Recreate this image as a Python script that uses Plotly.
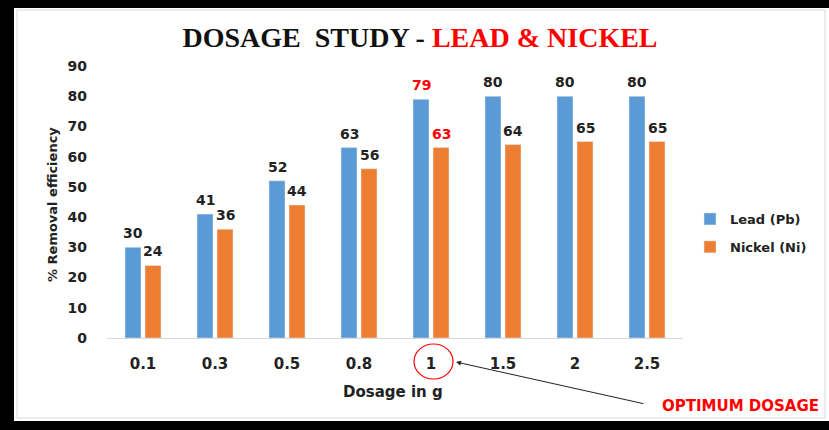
import plotly.graph_objects as go

# Dosage study data: % removal efficiency for lead and nickel
dosage = ["0.1", "0.3", "0.5", "0.8", "1", "1.5", "2", "2.5"]
lead_pb = [30, 41, 52, 63, 79, 80, 80, 80]
nickel_ni = [24, 36, 44, 56, 63, 64, 65, 65]
optimum = "1"

BLUE = "#5B9BD5"
ORANGE = "#ED7D31"
RED = "#FF0000"
FONT = "DejaVu Sans"

W, H = 829, 430
# plot area in pixels
L, R, T, B = 107, 683, 66, 338


def px(x):
    return (x - L) / (R - L)


def py(y):
    return (B - y) / (B - T)


fig = go.Figure()
fig.add_trace(go.Bar(x=dosage, y=lead_pb, name="Lead (Pb)", marker_color=BLUE,
                     legendgroup="pb"))
fig.add_trace(go.Bar(x=dosage, y=nickel_ni, name="Nickel (Ni)", marker_color=ORANGE,
                     legendgroup="ni"))

annotations = []
# value labels above each bar (category axis positions are indices)
for i, (cat, vp, vn) in enumerate(zip(dosage, lead_pb, nickel_ni)):
    col = RED if cat == optimum else "#222222"
    for val, shift in ((vp, -10), (vn, 10)):
        annotations.append(dict(
            x=i, y=val, xref="x", yref="y", text=str(val), showarrow=False,
            xshift=shift, yshift=4, yanchor="bottom",
            font=dict(family=FONT, size=14, color=col, weight="bold")))

# axis titles
annotations.append(dict(
    x=px(52), y=py(205), xref="paper", yref="paper", text="% Removal efficiency",
    textangle=-90, showarrow=False, xanchor="center", yanchor="middle",
    font=dict(family=FONT, size=13, color="#222222", weight="bold")))
annotations.append(dict(
    x=px(393), y=py(392), xref="paper", yref="paper", text="Dosage in g",
    showarrow=False, xanchor="center", yanchor="middle",
    font=dict(family=FONT, size=15, color="#222222", weight="bold")))

# optimum dosage callout
annotations.append(dict(
    x=px(456), y=py(362), xref="paper", yref="paper", ax=645 - 456, ay=404 - 362,
    axref="pixel", ayref="pixel", showarrow=True, arrowhead=2, arrowsize=1,
    arrowwidth=1, arrowcolor="#222222", text=""))
annotations.append(dict(
    x=px(740), y=py(406), xref="paper", yref="paper", text="OPTIMUM DOSAGE",
    showarrow=False, xanchor="center", yanchor="middle",
    font=dict(family=FONT, size=15, color=RED, weight="bold")))

shapes = [
    # chart border
    dict(type="rect", xref="paper", yref="paper", x0=px(17), x1=px(825),
         y0=py(418), y1=py(10), line=dict(color="#D9D9D9", width=1), layer="below"),
    # circle around the optimum dosage tick
    dict(type="circle", xref="paper", yref="paper", x0=px(414), x1=px(453),
         y0=py(379), y1=py(344), line=dict(color=RED, width=1.2)),
    # black frame
    dict(type="rect", xref="paper", yref="paper", x0=px(0), x1=px(W),
         y0=py(8), y1=py(0), fillcolor="black", line_width=0),
    dict(type="rect", xref="paper", yref="paper", x0=px(0), x1=px(14),
         y0=py(H), y1=py(0), fillcolor="black", line_width=0),
    dict(type="rect", xref="paper", yref="paper", x0=px(0), x1=px(W),
         y0=py(H), y1=py(421), fillcolor="black", line_width=0),
]

fig.update_layout(
    width=W, height=H,
    margin=dict(l=L, r=W - R, t=T, b=H - B, pad=0),
    paper_bgcolor="white", plot_bgcolor="white",
    barmode="group", bargap=0.444, bargroupgap=0.2,
    title=dict(
        text="DOSAGE\u00a0\u00a0STUDY - <span style='color:#FF0000'>LEAD &amp; NICKEL</span>",
        x=420 / W, xref="container", xanchor="center",
        y=1 - 37 / H, yref="container", yanchor="middle",
        font=dict(family="Liberation Serif", size=28, color="#111111", weight="bold")),
    legend=dict(x=px(690), y=py(233), xanchor="left", yanchor="middle",
                font=dict(family=FONT, size=13, color="#222222", weight="bold"),
                tracegroupgap=8, bgcolor="rgba(0,0,0,0)"),
    annotations=annotations,
    shapes=shapes,
    xaxis=dict(type="category", showgrid=False, showline=True, linecolor="#D9D9D9",
               linewidth=1, ticks="", ticklabelstandoff=12,
               tickfont=dict(family=FONT, size=15, color="#222222", weight="bold")),
    yaxis=dict(range=[0, 90], dtick=10, showgrid=False, showline=False,
               zeroline=False, ticks="", ticklabelstandoff=19,
               tickfont=dict(family=FONT, size=14, color="#222222", weight="bold")),
)

fig.write_html("out.html")
